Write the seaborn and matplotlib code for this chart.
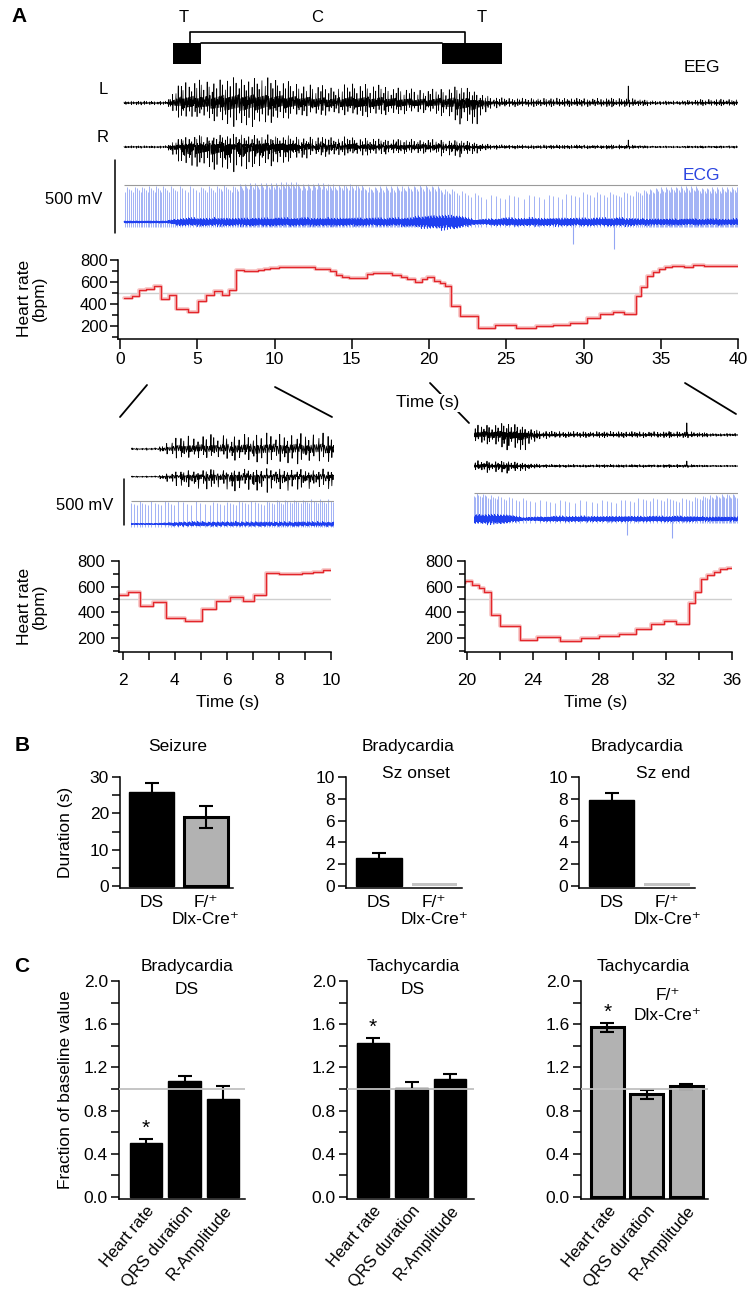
import numpy as np
import pandas as pd
import matplotlib
matplotlib.use("Agg")
import matplotlib.pyplot as plt
import seaborn as sns
from matplotlib.lines import Line2D
from matplotlib.patches import Rectangle
from matplotlib import font_manager

# ======================= DATA =======================
# Heart-rate step trace (step start time in s, bpm)
hr_time = [0.25, 0.78, 1.25, 1.7, 2.2, 2.65, 3.15, 3.65, 4.4, 5.05, 5.57, 6.1, 6.6, 7.05,
           7.5, 8.0, 8.9, 9.3, 9.7, 10.3, 11.0, 11.6, 12.2, 12.6, 13.1, 13.6, 14.0, 14.4,
           14.8, 15.5, 16.0, 16.4, 17.0, 17.6, 18.2, 18.6, 19.1, 19.55, 19.85, 20.3, 20.7,
           21.05, 21.45, 22.0, 23.2, 24.25, 25.6, 26.9, 28.0, 29.15, 30.2, 31.1, 31.9, 32.6,
           33.4, 33.75, 34.1, 34.5, 34.9, 35.3, 35.7, 36.5, 37.1, 37.8, 38.5, 39.2, 39.7, 40.0]
hr_bpm = [455, 473, 527, 536, 562, 450, 478, 352, 331, 425, 485, 516, 485, 531,
          707, 696, 708, 718, 727, 733, 735, 740, 736, 722, 714, 700, 660, 645,
          632, 640, 672, 685, 678, 668, 648, 628, 603, 627, 642, 612, 588,
          560, 378, 289, 185, 208, 178, 197, 213, 229, 272, 307, 331, 306,
          470, 556, 658, 688, 718, 736, 748, 740, 752, 742, 748, 742, 750, 750]

# EEG / ECG amplitude envelopes read per second (t = 0 ... 40 s), trace units
env_sec = list(range(41))
eeg_L_up = [2, 2, 2, 2, 22, 24, 24, 26, 26, 26, 25, 22, 20, 18, 16, 22, 20, 18, 16, 14, 14,
            16, 18, 12, 6, 5, 5, 5, 5, 5, 5, 5, 5, 5, 3, 2, 2.5, 3, 4, 4, 4]
eeg_L_down = [2, 2, 2, 2, 18, 14, 18, 24, 26, 24, 20, 16, 14, 14, 12, 14, 14, 12, 12, 10, 10,
              14, 22, 24, 6, 4, 4, 4, 4, 4, 4, 4, 4, 4, 3, 2, 2, 2.5, 3, 3, 3]
eeg_R_up = [1.5, 1.5, 1.5, 1.5, 12, 14, 15, 15, 15, 14, 14, 13, 12, 12, 12, 12, 11, 10, 10, 9,
            9, 8, 8, 5, 3, 2.5, 2.5, 2.5, 2.5, 2.5, 2.5, 2.5, 2.5, 2.5, 1.5, 1.2, 1.2, 1.5,
            1.5, 1.5, 1.5]
eeg_R_down = [1.5, 1.5, 1.5, 1.5, 22, 24, 28, 31, 30, 28, 24, 18, 15, 12, 12, 10, 10, 9, 8, 8,
              8, 10, 12, 8, 3, 2.5, 2.5, 2.5, 2.5, 2.5, 2.5, 2.5, 2.5, 2.5, 1.5, 1.2, 1.2, 1.5,
              1.5, 1.5, 1.5]
ecg_band = [1.5, 1.5, 1.5, 1.5, 5, 5, 5, 5, 5, 5, 5, 5, 5, 5, 5, 5, 5, 5, 5, 6, 8, 9, 8, 3,
            4, 5, 5, 5, 5, 5, 5, 5, 5, 5, 4, 4, 4, 4, 4, 4, 4]
ecg_spike = [37, 37, 37, 37, 37, 36, 36, 37, 40, 40, 40, 40, 40, 40, 38, 38, 37, 37, 37, 37,
             37, 35, 33, 30, 28, 28, 28, 28, 28, 28, 30, 30, 30, 32, 34, 36, 36, 36, 36, 36, 36]
eeg_event_t = [32.9]
eeg_event_L = [17]
eeg_event_R = [7]
ecg_down_t = [29.3, 32.0]
ecg_down_amp = [22, 27]

# seizure phases
phase_labels = ["T", "C", "T"]
phase_label_t = [4.1, 12.75, 23.4]
tonic_start = [3.4, 20.85]
tonic_end = [5.25, 24.7]
clonic_start, clonic_end = 4.5, 22.3

# Panel B
b_groups = ["DS", "F/\u207a\nDlx-Cre\u207a"]
b_titles = ["Seizure", "Bradycardia", "Bradycardia"]
b_subtitles = ["", "Sz onset", "Sz end"]
b_means = [[25.9, 19.1], [2.57, 0.25], [7.86, 0.25]]
b_errs = [[2.5, 3.05], [0.46, 0.0], [0.67, 0.0]]

# Panel C
c_measures = ["Heart rate", "QRS duration", "R-Amplitude"]
c_means = [[0.50, 1.075, 0.91], [1.43, 1.01, 1.09], [1.57, 0.95, 1.025]]
c_errs = [[0.04, 0.045, 0.115], [0.04, 0.055, 0.05], [0.045, 0.04, 0.022]]

# ======================= STYLE =======================
sns.set_theme(style="ticks", rc={
    "axes.edgecolor": "black", "axes.labelcolor": "black", "text.color": "black",
    "xtick.color": "black", "ytick.color": "black", "axes.linewidth": 1.1,
    "xtick.major.width": 1.1, "ytick.major.width": 1.1,
    "xtick.minor.width": 1.1, "ytick.minor.width": 1.1,
})
avail = {f.name for f in font_manager.fontManager.ttflist}
NARROW = "Liberation Sans Narrow" if "Liberation Sans Narrow" in avail else "Liberation Sans"
REG = "Liberation Sans"
plt.rcParams["font.family"] = [REG, "DejaVu Sans"]
FN = [NARROW, "DejaVu Sans"]
FR = [REG, "DejaVu Sans"]

W, H = 750, 1296
fig = plt.figure(figsize=(W / 100, H / 100), dpi=100)


def ax_px(l, t, r, b):
    return fig.add_axes([l / W, 1 - b / H, (r - l) / W, (b - t) / H])


def ftext(x, y, s, **kw):
    kw.setdefault("ha", "center")
    kw.setdefault("va", "center")
    return fig.text(x / W, 1 - y / H, s, **kw)


def fline(xs, ys, **kw):
    fig.add_artist(Line2D([x / W for x in xs], [1 - y / H for y in ys],
                          transform=fig.transFigure, **kw))


# ======================= TRACES =======================
def step_lookup(t):
    idx = np.searchsorted(hr_time, t, side="right") - 1
    idx = np.clip(idx, 0, len(hr_bpm) - 1)
    return np.asarray(hr_bpm)[idx]


def spike_texture(t, phase):
    """Deterministic sharp-spike texture in [-1, 1]; its size comes from the envelopes."""
    n = len(t)
    i = np.arange(n)
    w = 0.32 * (2 * ((i * 0.7548776662 + phase) % 1.0) - 1)
    k = 0
    ts = t[0] + 0.05 * phase
    dt = t[1] - t[0]
    while ts < t[-1]:
        idx = int(round((ts - t[0]) / dt))
        a = 0.45 + 0.55 * ((k * 0.6180339887 + phase) % 1.0)
        b = 0.35 + 0.65 * ((k * 0.5698402910 + 2 * phase) % 1.0)
        if idx + 2 < n:
            w[idx] = a
            w[idx + 1] = -b
            w[idx + 2] = 0.25 * a
        ts += 0.11 + 0.12 * ((k * 0.4142135624 + phase) % 1.0)
        k += 1
    return np.clip(w, -1, 1)


FS = 55
t_eeg = np.arange(0.26, 40.05, 1 / FS)
wL = spike_texture(t_eeg, 0.0)
wR = spike_texture(t_eeg, 0.0) * 0.85 + 0.15 * spike_texture(t_eeg, 0.37)
L_BASE, R_BASE, ECG_BASE, ECG_GREY = 103, 147, 222, 185
yL = (L_BASE - np.interp(t_eeg, env_sec, eeg_L_up) * np.maximum(wL, 0)
      - np.interp(t_eeg, env_sec, eeg_L_down) * np.minimum(wL, 0))
yR = (R_BASE - np.interp(t_eeg, env_sec, eeg_R_up) * np.maximum(wR, 0)
      - np.interp(t_eeg, env_sec, eeg_R_down) * np.minimum(wR, 0))
for te, aL, aR in zip(eeg_event_t, eeg_event_L, eeg_event_R):
    kk = np.argmin(np.abs(t_eeg - te))
    yL[kk] = L_BASE - aL
    yR[kk] = R_BASE - aR

t_ecg = np.arange(0.26, 40.05, 1 / 110)
ii = np.arange(len(t_ecg))
rag = 0.45 + 0.55 * ((ii * 0.5698402910) % 1.0)
y_ecg = ECG_BASE + np.interp(t_ecg, env_sec, ecg_band) * rag * (2 * ((ii * 0.6180339887) % 1.0) - 1)

beats = []
tb = 0.3
while tb < 40.05:
    beats.append(tb)
    tb += 60.0 / float(step_lookup(tb))
beats = np.array(beats)
bk = np.arange(len(beats))
beat_h = np.interp(beats, env_sec, ecg_spike) * (0.8 + 0.2 * ((bk * 0.7548776662) % 1.0))

LIGHT_BLUE = "#93a6f4"
DARK_BLUE = "#1f3ff0"


def draw_traces(ax, xlim, lw_eeg=0.6):
    ax.vlines(beats, ECG_BASE + 5, ECG_BASE - beat_h, color=LIGHT_BLUE, lw=0.6, zorder=1)
    ax.vlines(ecg_down_t, ECG_BASE, np.array(ecg_down_amp) + ECG_BASE, color=LIGHT_BLUE,
              lw=0.8, zorder=1)
    sns.lineplot(x=t_ecg, y=y_ecg, ax=ax, color=DARK_BLUE, lw=0.45, estimator=None,
                 sort=False, zorder=2)
    ax.hlines(ECG_GREY, max(xlim[0], 0.26), xlim[1], color="#9a9a9a", lw=0.8, zorder=3)
    sns.lineplot(x=t_eeg, y=yL, ax=ax, color="black", lw=lw_eeg, estimator=None, sort=False)
    sns.lineplot(x=t_eeg, y=yR, ax=ax, color="black", lw=lw_eeg, estimator=None, sort=False)
    ax.set_xlim(*xlim)
    ax.set_ylim(255, 60)
    ax.set_axis_off()


# --- top traces
ax_tr = ax_px(118, 60, 738, 255)
draw_traces(ax_tr, (-0.13, 40.0), lw_eeg=0.5)

# --- phase bracket
ax_ph = ax_px(118, 10, 738, 70)
ax_ph.set_xlim(-0.13, 40.0)
ax_ph.set_ylim(70, 10)
ax_ph.set_axis_off()
for s, e in zip(tonic_start, tonic_end):
    ax_ph.add_patch(Rectangle((s, 43), e - s, 21, color="black", lw=0))
ax_ph.plot([clonic_start, clonic_start, clonic_end, clonic_end], [43, 32, 32, 43],
           color="black", lw=1.2)
ax_ph.plot([tonic_end[0], tonic_start[1]], [43, 43], color="black", lw=1.2)
for lab, tl in zip(phase_labels, phase_label_t):
    ax_ph.text(tl, 18, lab, ha="center", va="center", fontsize=12, family=FR)

# --- heart-rate axes helper
HR_RED = "#e3262b"


def hr_plot(ax, xlim, ylim, xmaj, xmin, xlabels, ylabpad, xlabpad, xtl):
    sns.lineplot(x=hr_time, y=hr_bpm, ax=ax, drawstyle="steps-post", color="#f7c2c2",
                 lw=2.6, estimator=None, sort=False)
    sns.lineplot(x=hr_time, y=hr_bpm, ax=ax, drawstyle="steps-post", color=HR_RED,
                 lw=1.0, estimator=None, sort=False)
    ax.axhline(500, color="#cfcfcf", lw=1.0, zorder=0)
    ax.set_xlim(*xlim)
    ax.set_ylim(*ylim)
    sns.despine(ax=ax)
    ax.set_yticks([200, 400, 600, 800])
    ax.set_yticks([100, 300, 500, 700], minor=True)
    ax.set_xticks(xmaj)
    ax.set_xticklabels(xlabels)
    ax.set_xticks(xmin, minor=True)
    ax.tick_params(axis="y", which="major", length=6, pad=ylabpad, labelsize=12)
    ax.tick_params(axis="y", which="minor", length=4)
    ax.tick_params(axis="x", which="both", length=xtl, pad=xlabpad, labelsize=12.5)
    ax.set_xlabel("")
    ax.set_ylabel("")
    for lab in ax.get_xticklabels():
        lab.set_family(FN)


ax_hr = ax_px(118, 260, 738, 339)
hr_plot(ax_hr, (-0.13, 40.0), (82, 800), list(range(0, 41, 5)), [],
        [str(v) for v in range(0, 41, 5)], 1.5, 2, 7.5)
for lab in ax_hr.get_yticklabels():
    lab.set_family(FR)
ftext(32, 298, "Heart rate\n(bpm)", rotation=90, fontsize=12.5, family=FR, linespacing=1.0)
ftext(428, 403, "Time (s)", fontsize=12.5, family=FN,
      bbox=dict(facecolor="white", edgecolor="none", pad=1.0), zorder=10)

# labels on traces
ftext(103, 90, "L", fontsize=12, family=FR)
ftext(103, 137, "R", fontsize=12, family=FR)
ftext(720, 68, "EEG", fontsize=12.5, family=FN, ha="right")
ftext(720, 175, "ECG", fontsize=12.5, family=FN, ha="right", color="#2b45e0")
ftext(74, 200, "500 mV", fontsize=12, family=FR)
fline([115, 115], [160, 233], color="black", lw=1.1)

# zoom connector lines
fline([147, 120], [385, 417], color="black", lw=1.3)
fline([275, 332], [387, 417], color="black", lw=1.3)
fline([430, 469], [383, 423], color="black", lw=1.3, zorder=1)
fline([685, 736], [383, 414], color="black", lw=1.3)

# --- inset traces
ax_i1 = ax_px(131, 421.9, 334, 544.8)
draw_traces(ax_i1, (2.0, 10.0))
ax_i2 = ax_px(474, 404.6, 738, 542.3)
draw_traces(ax_i2, (20.0, 36.0))
ftext(85, 505, "500 mV", fontsize=12, family=FR)
fline([124, 124], [479, 525], color="black", lw=1.1)

# --- inset heart rate
ax_h1 = ax_px(119, 561, 331, 652)
hr_plot(ax_h1, (1.85, 10.0), (90, 800), [2, 4, 6, 8, 10], [3, 5, 7, 9],
        ["2", "4", "6", "8", "10"], 4, 9, 6)
ax_h2 = ax_px(465, 561, 732, 652)
hr_plot(ax_h2, (19.88, 36.0), (90, 800), [20, 24, 28, 32, 36], [22, 26, 30, 34],
        ["20", "24", "28", "32", "36"], 3, 9, 6)
for a in (ax_h1, ax_h2):
    for lab in a.get_yticklabels():
        lab.set_family(FN)
ftext(32, 606, "Heart rate\n(bpm)", rotation=90, fontsize=12.5, family=FR, linespacing=1.0)
ftext(228, 702, "Time (s)", fontsize=12.5, family=FN)
ftext(596, 702, "Time (s)", fontsize=12.5, family=FN)

# ======================= PANEL B =======================
b_boxes = [(120, 233, (-0.58, 1.5)), (346, 462, (-0.595, 1.5)), (579, 695, (-0.585, 1.5))]
b_ylims = [(-0.55, 30), (-0.2, 10), (-0.2, 10)]
b_title_x = [178, 408, 637]
b_sub_x = [None, 416, 663]
for k in range(3):
    l, r, xl = b_boxes[k]
    ax = ax_px(l, 777, r, 888)
    df = pd.DataFrame({"g": b_groups, "v": b_means[k]})
    pal = ["black", "#b2b2b2"] if k == 0 else ["black", "#c4c4c4"]
    sns.barplot(data=df, x="g", y="v", hue="g", palette=pal, legend=False, ax=ax,
                width=0.82, errorbar=None, saturation=1)
    for j, p in enumerate(ax.patches):
        if j == 0:
            p.set_edgecolor("black"); p.set_linewidth(1.0)
        elif k == 0:
            p.set_edgecolor("black"); p.set_linewidth(2.2)
        else:
            p.set_linewidth(0)
    for j in range(2):
        if b_errs[k][j] > 0:
            ax.errorbar(j, b_means[k][j], yerr=b_errs[k][j], fmt="none", ecolor="black",
                        elinewidth=1.5, capsize=5, capthick=1.5, zorder=5)
    ax.set_xlim(*xl)
    ax.set_ylim(*b_ylims[k])
    sns.despine(ax=ax)
    if k == 0:
        ax.set_yticks([0, 10, 20, 30])
        ax.set_yticks([5, 15, 25], minor=True)
        ax.set_ylabel("Duration (s)", fontsize=12.5, family=FR, labelpad=12)
    else:
        ax.set_yticks([0, 2, 4, 6, 8, 10])
        ax.set_ylabel("")
    ax.set_xlabel("")
    ax.tick_params(axis="y", which="major", length=6, pad=2, labelsize=12.5)
    ax.tick_params(axis="y", which="minor", length=6)
    ax.tick_params(axis="x", length=0, pad=5, labelsize=12.5)
    for lab in ax.get_xticklabels() + ax.get_yticklabels():
        lab.set_family(FN)
    ftext(b_title_x[k], 747, b_titles[k], fontsize=12.5, family=FN)
    if b_subtitles[k]:
        ftext(b_sub_x[k], 773, b_subtitles[k], fontsize=12.5, family=FN)

# ======================= PANEL C =======================
c_boxes = [(119, 245, (-0.70, 2.57)), (347, 474, (-0.675, 2.62)), (581, 708, (-0.675, 2.56))]
c_title_x = [187, 413, 643]
for k in range(3):
    l, r, xl = c_boxes[k]
    ax = ax_px(l, 981, r, 1199)
    df = pd.DataFrame({"m": c_measures, "v": c_means[k]})
    col = "black" if k < 2 else "#b2b2b2"
    sns.barplot(data=df, x="m", y="v", color=col, ax=ax, width=0.84, errorbar=None,
                saturation=1)
    for p in ax.patches:
        p.set_edgecolor("black")
        p.set_linewidth(1.0 if k < 2 else 2.2)
    ax.errorbar(range(3), c_means[k], yerr=c_errs[k], fmt="none", ecolor="black",
                elinewidth=1.5, capsize=5, capthick=1.5, zorder=5)
    ax.axhline(1.0, color="#c0c0c0", lw=1.3, zorder=6)
    top = c_means[k][0] + c_errs[k][0]
    ax.text(0, top + 0.01, "*", ha="center", va="bottom", fontsize=15, family=FR)
    ax.set_xlim(*xl)
    ax.set_ylim(-0.02, 2.0)
    sns.despine(ax=ax)
    ax.set_yticks([0.0, 0.4, 0.8, 1.2, 1.6, 2.0])
    ax.set_yticklabels(["0.0", "0.4", "0.8", "1.2", "1.6", "2.0"])
    ax.set_yticks(np.arange(0.2, 2.0, 0.4), minor=True)
    ax.tick_params(axis="y", which="major", length=6, pad=2, labelsize=12.5)
    ax.tick_params(axis="y", which="minor", length=6)
    ax.tick_params(axis="x", length=0, pad=3, labelsize=12)
    ax.set_xticks(range(3))
    ax.set_xticklabels(c_measures, rotation=50, ha="right", rotation_mode="anchor")
    for lab in ax.get_xticklabels():
        lab.set_family(FR)
    for lab in ax.get_yticklabels():
        lab.set_family(FN)
    ax.set_xlabel("")
    if k == 0:
        ax.set_ylabel("Fraction of baseline value", fontsize=12.5, family=FR, labelpad=8)
    else:
        ax.set_ylabel("")
    ftext(c_title_x[k], 967, "Tachycardia" if k else "Bradycardia", fontsize=12.5, family=FN)
    if k < 2:
        ftext(c_title_x[k], 989, "DS", fontsize=12.5, family=FN)
ftext(668, 995, "F/\u207a", fontsize=12.5, family=FN)
ftext(668, 1015, "Dlx-Cre\u207a", fontsize=12.5, family=FN)

# panel letters
ftext(19, 16, "A", fontsize=15, weight="bold", family=FR)
ftext(22, 745, "B", fontsize=15, weight="bold", family=FR)
ftext(22, 967, "C", fontsize=15, weight="bold", family=FR)

fig.savefig("out.png", dpi=100, facecolor="white")
